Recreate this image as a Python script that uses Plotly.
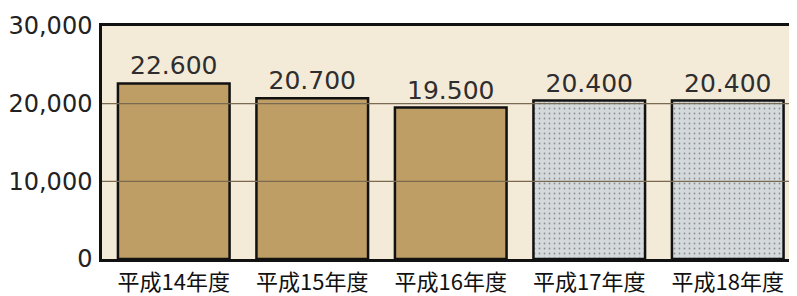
import plotly.graph_objects as go

categories = ["平成14年度", "平成15年度", "平成16年度", "平成17年度", "平成18年度"]
values = [22600, 20700, 19500, 20400, 20400]
value_labels = ["22.600", "20.700", "19.500", "20.400", "20.400"]
tick_vals = [0, 10000, 20000, 30000]
tick_text = ["0", "10,000", "20,000", "30,000"]

tan = "#BE9E64"
gray = "#D4D9DB"
colors = [tan, tan, tan, gray, gray]
pat_shapes = ["", "", "", ".", "."]

fig = go.Figure()
fig.add_trace(go.Bar(
    x=categories, y=values,
    text=value_labels, textposition="outside",
    textfont=dict(family="DejaVu Sans, sans-serif", size=25, color="#2e2e2e"),
    cliponaxis=False,
    marker=dict(color=colors, line=dict(color="#111111", width=2.5),
                pattern=dict(shape=pat_shapes, fgcolor="#CACFD2", size=5, solidity=0.1)),
    width=0.806,
))

for v in tick_vals[1:3]:
    fig.add_shape(type="line", xref="paper", x0=0, x1=1, yref="y", y0=v, y1=v,
                  line=dict(color="#7A6A52", width=1.2), layer="above")

# page body adds an 8px margin, so the figure is sized/offset to compensate
fig.update_layout(
    width=789, height=288,
    margin=dict(l=94, r=0, t=18, b=37, autoexpand=False),
    paper_bgcolor="white", plot_bgcolor="#F4EAD8",
    showlegend=False,
    font=dict(family="Noto Sans CJK JP, sans-serif", color="#111"),
)
fig.update_xaxes(
    range=[-0.518, 4.5], showline=True, linecolor="#111", linewidth=2.5, mirror=True,
    ticks="", automargin=False, ticklabelstandoff=2,
    tickfont=dict(family="Noto Sans CJK JP, sans-serif", size=22, color="#111"),
    showgrid=False,
)
fig.update_yaxes(
    range=[0, 30000], tickvals=tick_vals, ticktext=tick_text,
    showline=True, linecolor="#111", linewidth=2.5, showgrid=False, zeroline=False,
    ticks="", ticklabelstandoff=2, automargin=False,
    tickfont=dict(family="DejaVu Sans, sans-serif", size=24, color="#222"),
)

fig.write_html("out.html")
